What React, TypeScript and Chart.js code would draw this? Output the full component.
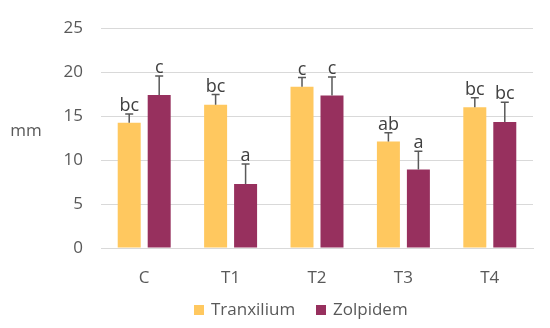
import React, { useEffect, useRef } from "react";
import { Chart, registerables } from "chart.js";

Chart.register(...registerables);

const categories = ["C", "T1", "T2", "T3", "T4"];
const tranxilium = [14.25, 16.3, 18.33, 12.1, 16.02];
const tranxiliumErr = [1.0, 1.15, 1.05, 1.0, 1.06];
const tranxiliumLetters = ["bc", "bc", "c", "ab", "bc"];
const zolpidem = [17.4, 7.27, 17.34, 8.94, 14.32];
const zolpidemErr = [2.15, 2.27, 2.1, 2.06, 2.26];
const zolpidemLetters = ["c", "a", "c", "a", "bc"];
const seriesNames = ["Tranxilium", "Zolpidem"];
const seriesColors = ["#FFC85F", "#97305E"];
const yTicksMax = 25;
const yTickStep = 5;
const yTitle = "mm";

const FONT = "'Open Sans', 'Noto Sans', sans-serif";
const errs = [tranxiliumErr, zolpidemErr];
const letters = [tranxiliumLetters, zolpidemLetters];

const extrasPlugin = {
  id: "extras",
  afterDatasetsDraw(chart: any) {
    const ctx = chart.ctx;
    const y = chart.scales.y;
    ctx.save();
    chart.data.datasets.forEach((ds: any, di: number) => {
      const meta = chart.getDatasetMeta(di);
      meta.data.forEach((bar: any, i: number) => {
        const v = ds.data[i];
        const top = y.getPixelForValue(v + errs[di][i]);
        const base = y.getPixelForValue(v);
        ctx.strokeStyle = "#595959";
        ctx.lineWidth = 1.5;
        ctx.beginPath();
        ctx.moveTo(bar.x, base);
        ctx.lineTo(bar.x, top);
        ctx.moveTo(bar.x - 4, top);
        ctx.lineTo(bar.x + 4, top);
        ctx.stroke();
        ctx.fillStyle = "#404040";
        ctx.font = `18px ${FONT}`;
        ctx.textAlign = "center";
        ctx.textBaseline = "alphabetic";
        ctx.fillText(letters[di][i], bar.x, top - 3);
      });
    });
    // y title
    ctx.fillStyle = "#595959";
    ctx.font = `17px ${FONT}`;
    ctx.textAlign = "center";
    ctx.textBaseline = "middle";
    ctx.fillText(yTitle, 26, 131);
    // legend
    const items = [
      { x: 194, text: seriesNames[0], color: seriesColors[0] },
      { x: 316, text: seriesNames[1], color: seriesColors[1] },
    ];
    const ly = 310;
    items.forEach((it) => {
      ctx.fillStyle = it.color;
      ctx.fillRect(it.x, ly - 5, 10, 10);
      ctx.fillStyle = "#595959";
      ctx.font = `17px ${FONT}`;
      ctx.textAlign = "left";
      ctx.textBaseline = "middle";
      ctx.fillText(it.text, it.x + 17, ly);
    });
    ctx.restore();
  },
};

export default function App() {
  const ref = useRef<HTMLCanvasElement>(null);
  useEffect(() => {
    if (!ref.current) return;
    const chart = new Chart(ref.current, {
      type: "bar",
      data: {
        labels: categories,
        datasets: [
          {
            label: seriesNames[0],
            data: tranxilium,
            backgroundColor: seriesColors[0],
            categoryPercentage: 0.694,
            barPercentage: 0.767,
          },
          {
            label: seriesNames[1],
            data: zolpidem,
            backgroundColor: seriesColors[1],
            categoryPercentage: 0.694,
            barPercentage: 0.767,
          },
        ],
      },
      options: {
        responsive: false,
        animation: false,
        layout: { padding: { top: 27, left: 0, right: 17, bottom: 40 } },
        plugins: { legend: { display: false }, tooltip: { enabled: false } },
        scales: {
          x: {
            afterFit: (s: any) => {
              s.height = 40;
            },
            grid: { display: false },
            border: { display: true, color: "#D9D9D9", width: 1 },
            ticks: { color: "#595959", font: { family: FONT, size: 17 }, padding: 12, maxRotation: 0 },
          },
          y: {
            min: 0,
            max: yTicksMax,
            afterFit: (s: any) => {
              s.width = 101;
            },
            grid: { color: "#D9D9D9", drawTicks: false, lineWidth: 1 },
            border: { display: false },
            ticks: {
              stepSize: yTickStep,
              color: "#595959",
              font: { family: FONT, size: 17 },
              padding: 18,
            },
          },
        },
      },
      plugins: [extrasPlugin],
    });
    return () => chart.destroy();
  }, []);
  return (
    <div style={{ position: "fixed", left: 0, top: 0, width: 550, height: 328, background: "#fff" }}>
      <canvas ref={ref} width={550} height={328} />
    </div>
  );
}
